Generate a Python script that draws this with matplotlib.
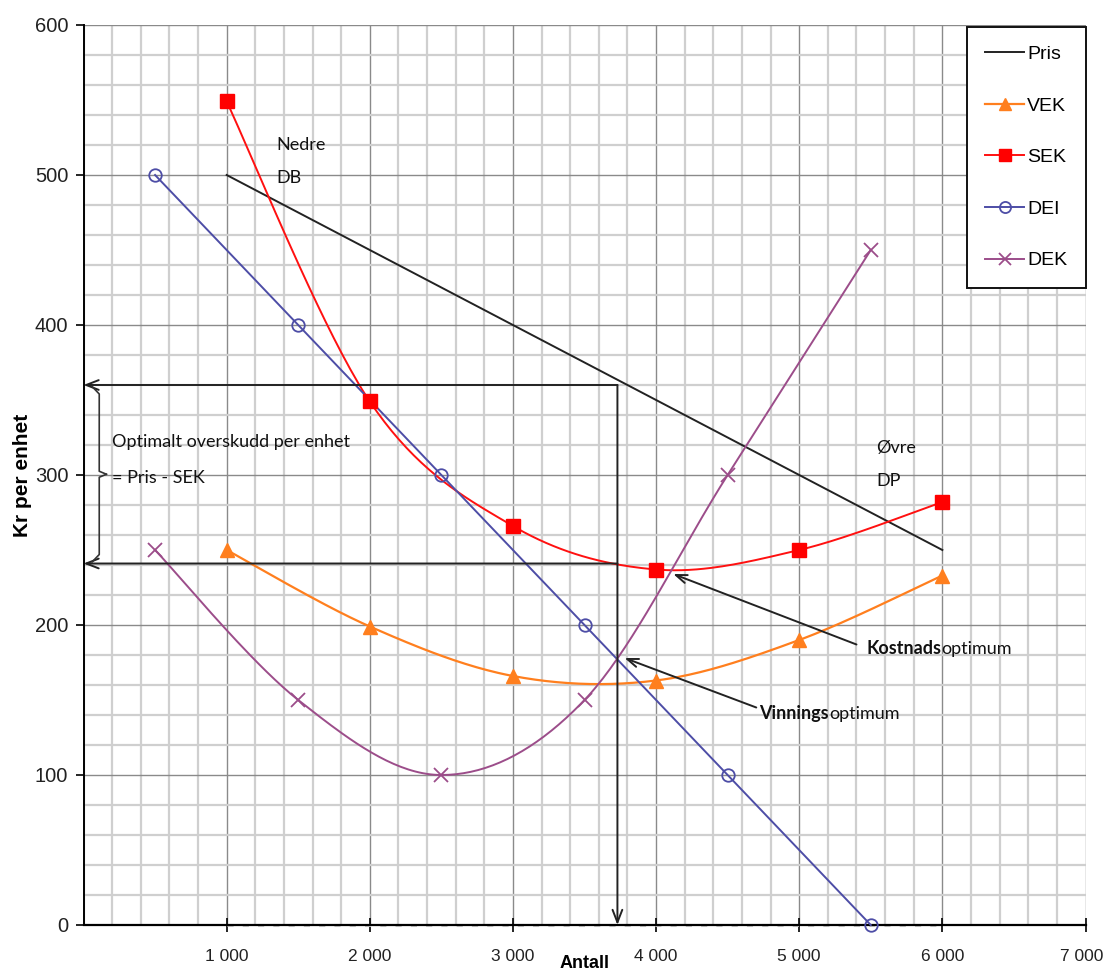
import numpy as np
import matplotlib
matplotlib.use("Agg")
import matplotlib.pyplot as plt
import matplotlib.transforms as mtransforms
from matplotlib.ticker import MultipleLocator, FuncFormatter
from matplotlib.patches import FancyArrowPatch
from matplotlib.lines import Line2D

# ---- data ----
pris_x = [1000, 6000]
pris_y = [500, 250]

vek_x = [1000, 2000, 3000, 4000, 5000, 6000]
vek_y = [250, 199, 166, 163, 190, 233]

sek_x = [1000, 2000, 3000, 4000, 5000, 6000]
sek_y = [549, 349, 266, 237, 250, 282]

dei_x = [500, 1500, 2500, 3500, 4500, 5500]
dei_y = [500, 400, 300, 200, 100, 0]

dek_x = [500, 1500, 2500, 3500, 4500, 5500]
dek_y = [250, 150, 100, 150, 300, 450]

null_x = [1000, 2000, 3000, 4000, 5000, 6000]
null_y = [0, 0, 0, 0, 0, 0]

opt_antall = 3730       # vinningsoptimum (DEI = DEK)
opt_pris = 360          # pris ved optimum
opt_sek = 241           # SEK ved optimum

x_ticks = [1000, 2000, 3000, 4000, 5000, 6000, 7000]
y_ticks = [0, 100, 200, 300, 400, 500, 600]


def smooth(xs, ys, n=40):
    """Bezier smoothing through the points (Catmull-Rom style)."""
    p = np.column_stack([xs, ys]).astype(float)
    m = len(p)
    out = []
    for i in range(m - 1):
        p0 = p[max(i - 1, 0)]
        p1 = p[i]
        p2 = p[i + 1]
        p3 = p[min(i + 2, m - 1)]
        c1 = p1 + (p2 - p0) / 6.0
        c2 = p2 - (p3 - p1) / 6.0
        t = np.linspace(0, 1, n)[:, None]
        seg = ((1 - t) ** 3) * p1 + 3 * ((1 - t) ** 2) * t * c1 \
            + 3 * (1 - t) * t ** 2 * c2 + t ** 3 * p2
        out.append(seg if i == 0 else seg[1:])
    s = np.vstack(out)
    return s[:, 0], s[:, 1]


W, H = 1107, 974
fig = plt.figure(figsize=(W / 100, H / 100), dpi=100)
L, R, T, B = 83.5, 1085.5, 25, 925
ax = fig.add_axes([L / W, 1 - B / H, (R - L) / W, (B - T) / H])

tick_font = ["Liberation Sans", "DejaVu Sans"]
note_font = ["Lato", "DejaVu Sans"]
arial = ["Liberation Sans", "DejaVu Sans"]
NOTE = 13

ax.set_xlim(0, 7000)
ax.set_ylim(0, 600)

# grid
ax.xaxis.set_major_locator(MultipleLocator(1000))
ax.xaxis.set_minor_locator(MultipleLocator(200))
ax.yaxis.set_major_locator(MultipleLocator(100))
ax.yaxis.set_minor_locator(MultipleLocator(20))
ax.grid(which="minor", color="#cfcfcf", linewidth=1.6, zorder=0)
ax.grid(which="major", color="#8a8a8a", linewidth=1.0, zorder=0.5)
ax.set_axisbelow(True)

for s in ("top", "right"):
    ax.spines[s].set_visible(False)
ax.spines["left"].set_linewidth(1.4)
ax.spines["bottom"].set_linewidth(1.6)

ax.set_xticks(x_ticks)
ax.set_yticks(y_ticks)
ax.xaxis.set_major_formatter(FuncFormatter(lambda v, p: f"{int(v):,}".replace(",", " ")))
ax.tick_params(axis="x", which="major", direction="inout", length=10, width=1.2,
               pad=12, labelsize=12.5)
ax.tick_params(axis="y", which="major", direction="out", length=6, width=1.2,
               pad=5, labelsize=14.5)
ax.tick_params(which="minor", length=0)
for lab in ax.get_xticklabels() + ax.get_yticklabels():
    lab.set_fontfamily(tick_font)
    lab.set_color("#222222")
# keep the last x label inside the canvas
last = ax.get_xticklabels()[-1]
last.set_transform(last.get_transform() +
                   mtransforms.ScaledTranslation(-4 / 100, 0, fig.dpi_scale_trans))

ax.set_xlabel("Antall", fontsize=13, fontweight="bold", family=arial, labelpad=-6)
ax.set_ylabel("Kr per enhet", fontsize=15, fontweight="bold", family=arial)
ax.yaxis.set_label_coords((32 - L) / (R - L), 0.5)

# hidden zero series
ax.plot(null_x, null_y, color="#c8c8c8", linewidth=2.2, linestyle=(0, (2, 3)),
        zorder=1, clip_on=False)

# series
ax.plot(pris_x, pris_y, color="#222222", linewidth=1.4, zorder=3)

sx, sy = smooth(vek_x, vek_y)
ax.plot(sx, sy, color="#ff7f1e", linewidth=1.6, zorder=3)
ax.plot(vek_x, vek_y, linestyle="none", marker="^", markersize=10,
        color="#ff7f1e", zorder=4)

sx, sy = smooth(sek_x, sek_y)
ax.plot(sx, sy, color="#ff1010", linewidth=1.4, zorder=3)
ax.plot(sek_x, sek_y, linestyle="none", marker="s", markersize=10,
        color="#ff0000", zorder=4)

ax.plot(dei_x, dei_y, color="#4d4da6", linewidth=1.4, zorder=3, clip_on=False)
ax.plot(dei_x, dei_y, linestyle="none", marker="o", markersize=9,
        markerfacecolor="none", markeredgecolor="#4d4da6", markeredgewidth=1.3,
        zorder=4, clip_on=False)

sx, sy = smooth(dek_x, dek_y)
ax.plot(sx, sy, color="#9c4d8a", linewidth=1.4, zorder=3)
ax.plot(dek_x, dek_y, linestyle="none", marker="x", markersize=10,
        markeredgewidth=1.3, color="#9c4d8a", zorder=4)

# legend
handles = [
    Line2D([], [], color="#222222", linewidth=1.4),
    Line2D([], [], color="#ff7f1e", linewidth=1.6, marker="^", markersize=9),
    Line2D([], [], color="#ff1010", linewidth=1.4, marker="s", markersize=9,
           markerfacecolor="#ff0000", markeredgecolor="#ff0000"),
    Line2D([], [], color="#4d4da6", linewidth=1.4, marker="o", markersize=8,
           markerfacecolor="none", markeredgewidth=1.3),
    Line2D([], [], color="#9c4d8a", linewidth=1.4, marker="x", markersize=9,
           markeredgewidth=1.3),
]
leg = ax.legend(handles, ["Pris", "VEK", "SEK", "DEI", "DEK"],
                loc="upper right", bbox_to_anchor=(1.0, 0.998),
                frameon=True, fancybox=False, framealpha=1, edgecolor="#111111",
                prop={"family": arial, "size": 14}, labelspacing=1.75,
                handlelength=2.0, handletextpad=0.15, borderpad=0.95,
                borderaxespad=0.0)
leg.get_frame().set_linewidth(1.4)
leg.set_zorder(10)

# optimum lines with arrows
arr_kw = dict(arrowstyle="->,head_length=0.9,head_width=0.35", color="#222222",
              linewidth=1.4, shrinkA=0, shrinkB=0, zorder=5)
ax.add_patch(FancyArrowPatch((opt_antall, opt_pris), (0, opt_pris),
                             mutation_scale=10, clip_on=False, **arr_kw))
ax.add_patch(FancyArrowPatch((opt_antall, opt_pris), (opt_antall, 0),
                             mutation_scale=10, clip_on=False, **arr_kw))
ax.add_patch(FancyArrowPatch((opt_antall, opt_sek), (0, opt_sek),
                             mutation_scale=10, clip_on=False, **arr_kw))

# curly brace between the two levels
brace_top = opt_pris - 5
brace_bot = opt_sek + 5
mid = (opt_pris + opt_sek) / 2
bx = 110
ax.plot([60, bx, bx, 160], [brace_top + 4, brace_top - 1, mid + 2, mid],
        color="#333333", linewidth=1.2, zorder=5)
ax.plot([60, bx, bx, 160], [brace_bot - 4, brace_bot + 1, mid - 2, mid],
        color="#333333", linewidth=1.2, zorder=5)

ax.text(200, 322, "Optimalt overskudd per enhet", fontsize=NOTE, family=note_font,
        color="#111111", va="center", ha="left", zorder=6)
ax.text(200, 298, "= Pris - SEK", fontsize=NOTE, family=note_font,
        color="#111111", va="center", ha="left", zorder=6)

ax.text(1350, 520, "Nedre", fontsize=NOTE, family=note_font, color="#111111",
        va="center", zorder=6)
ax.text(1350, 498, "DB", fontsize=NOTE, family=note_font, color="#111111",
        va="center", zorder=6)
ax.text(5540, 318, "Øvre", fontsize=NOTE, family=note_font, color="#111111",
        va="center", zorder=6)
ax.text(5540, 296, "DP", fontsize=NOTE, family=note_font, color="#111111",
        va="center", zorder=6)

# Kostnadsoptimum
ax.annotate("", xy=(4120, 234), xytext=(5400, 187),
            arrowprops=dict(arrowstyle="->,head_length=0.8,head_width=0.3",
                            color="#222222", linewidth=1.4, shrinkA=0, shrinkB=0),
            zorder=6)
t1 = ax.text(5470, 184, "Kostnads", fontsize=NOTE, family=note_font,
             fontweight="bold", color="#111111", va="center", zorder=6)
ax.annotate("optimum", xycoords=t1, xy=(1, 0.5), va="center", ha="left",
            fontsize=NOTE, family=note_font, color="#111111", zorder=6)

# Vinningsoptimum
ax.annotate("", xy=(3780, 178), xytext=(4700, 145),
            arrowprops=dict(arrowstyle="->,head_length=0.8,head_width=0.3",
                            color="#222222", linewidth=1.4, shrinkA=0, shrinkB=0),
            zorder=6)
t2 = ax.text(4720, 141, "Vinnings", fontsize=NOTE, family=note_font,
             fontweight="bold", color="#111111", va="center", zorder=6)
ax.annotate("optimum", xycoords=t2, xy=(1, 0.5), va="center", ha="left",
            fontsize=NOTE, family=note_font, color="#111111", zorder=6)

fig.savefig("out.png", dpi=100, facecolor="white")
